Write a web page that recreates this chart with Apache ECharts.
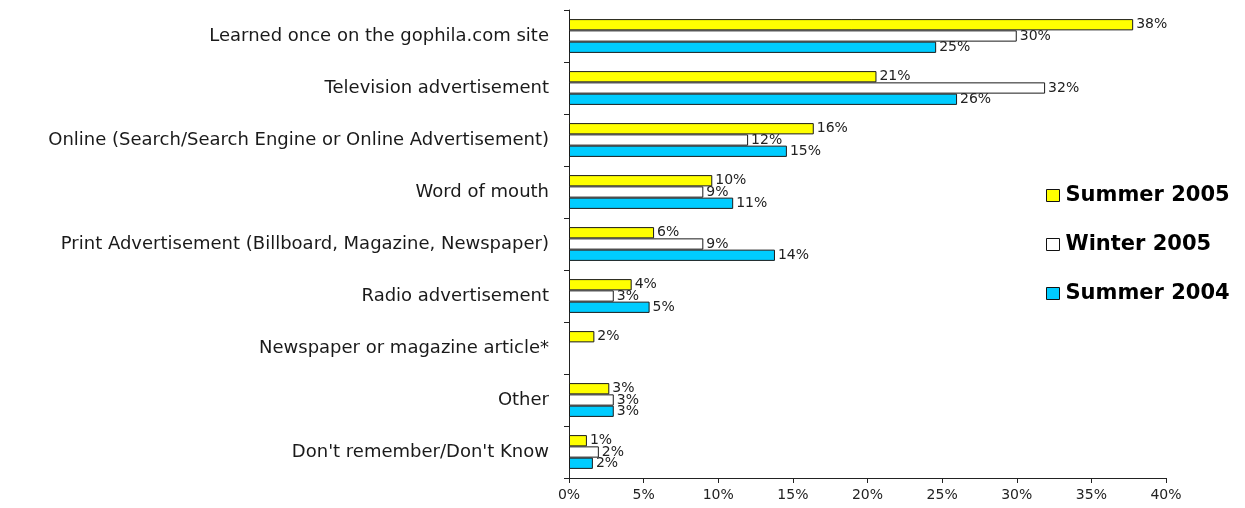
<!DOCTYPE html>
<html>
<head>
<meta charset="utf-8">
<title>How respondents heard about gophila.com</title>
<script src="https://cdn.jsdelivr.net/npm/echarts@6/dist/echarts.min.js"></script>
<style>
  html, body { margin: 0; padding: 0; background: #ffffff; }
  #chart { width: 1245px; height: 508px; }
</style>
</head>
<body>
<div id="chart"></div>
<script>
const categories = [
  'Learned once on the gophila.com site',
  'Television advertisement',
  'Online (Search/Search Engine or Online Advertisement)',
  'Word of mouth',
  'Print Advertisement (Billboard, Magazine, Newspaper)',
  'Radio advertisement',
  'Newspaper or magazine article*',
  'Other',
  "Don't remember/Don't Know"
];

// Share of respondents (%), one array per survey wave
const summer2005 = [37.8, 20.6, 16.4, 9.6, 5.7, 4.2, 1.7, 2.7, 1.2];
const winter2005 = [30.0, 31.9, 12.0, 9.0, 9.0, 3.0, null, 3.0, 2.0];
const summer2004 = [24.6, 26.0, 14.6, 11.0, 13.8, 5.4, null, 3.0, 1.6];

const seriesNames = ['Summer 2005', 'Winter 2005', 'Summer 2004'];
const seriesColors = ['#ffff00', '#ffffff', '#00ccff'];
const seriesData = [summer2005, winter2005, summer2004];

const chart = echarts.init(document.getElementById('chart'), null, { renderer: 'canvas' });

const textFont = 'DejaVu Sans, Verdana, sans-serif';

chart.setOption({
  animation: false,
  backgroundColor: '#ffffff',
  grid: { left: 569, right: 79, top: 10, bottom: 30, containLabel: false },
  legend: {
    orient: 'vertical',
    left: 1041,
    top: 180,
    itemGap: 28,
    itemWidth: 13,
    itemHeight: 12,
    icon: 'rect',
    itemStyle: { borderWidth: 1, borderColor: '#111111' },
    textStyle: {
      fontFamily: textFont,
      fontSize: 21,
      fontWeight: 'bold',
      color: '#000000',
      padding: [0, 0, 0, 1]
    },
    data: seriesNames
  },
  xAxis: {
    type: 'value',
    min: 0,
    max: 40,
    interval: 5,
    axisLine: { show: true, lineStyle: { color: '#222222', width: 1 } },
    axisTick: { show: true, length: 5, lineStyle: { color: '#222222' } },
    splitLine: { show: false },
    axisLabel: {
      formatter: '{value}%',
      fontFamily: textFont,
      fontSize: 14,
      color: '#222222',
      margin: 10
    }
  },
  yAxis: {
    type: 'category',
    inverse: true,
    data: categories,
    axisLine: { show: true, lineStyle: { color: '#222222', width: 1 } },
    axisTick: { show: true, length: 5, alignWithLabel: false, lineStyle: { color: '#222222' } },
    axisLabel: {
      fontFamily: textFont,
      fontSize: 18,
      color: '#1a1a1a',
      margin: 20
    }
  },
  series: seriesNames.map((name, i) => ({
    name: name,
    type: 'bar',
    data: seriesData[i],
    barGap: '0%',
    barCategoryGap: '35%',
    itemStyle: {
      color: seriesColors[i],
      borderColor: '#1a1a1a',
      borderWidth: 1
    },
    label: {
      show: true,
      position: 'right',
      distance: 3,
      fontFamily: textFont,
      fontSize: 14,
      color: '#222222',
      formatter: p => (p.value == null ? '' : Math.round(p.value) + '%')
    }
  }))
});
</script>
</body>
</html>
